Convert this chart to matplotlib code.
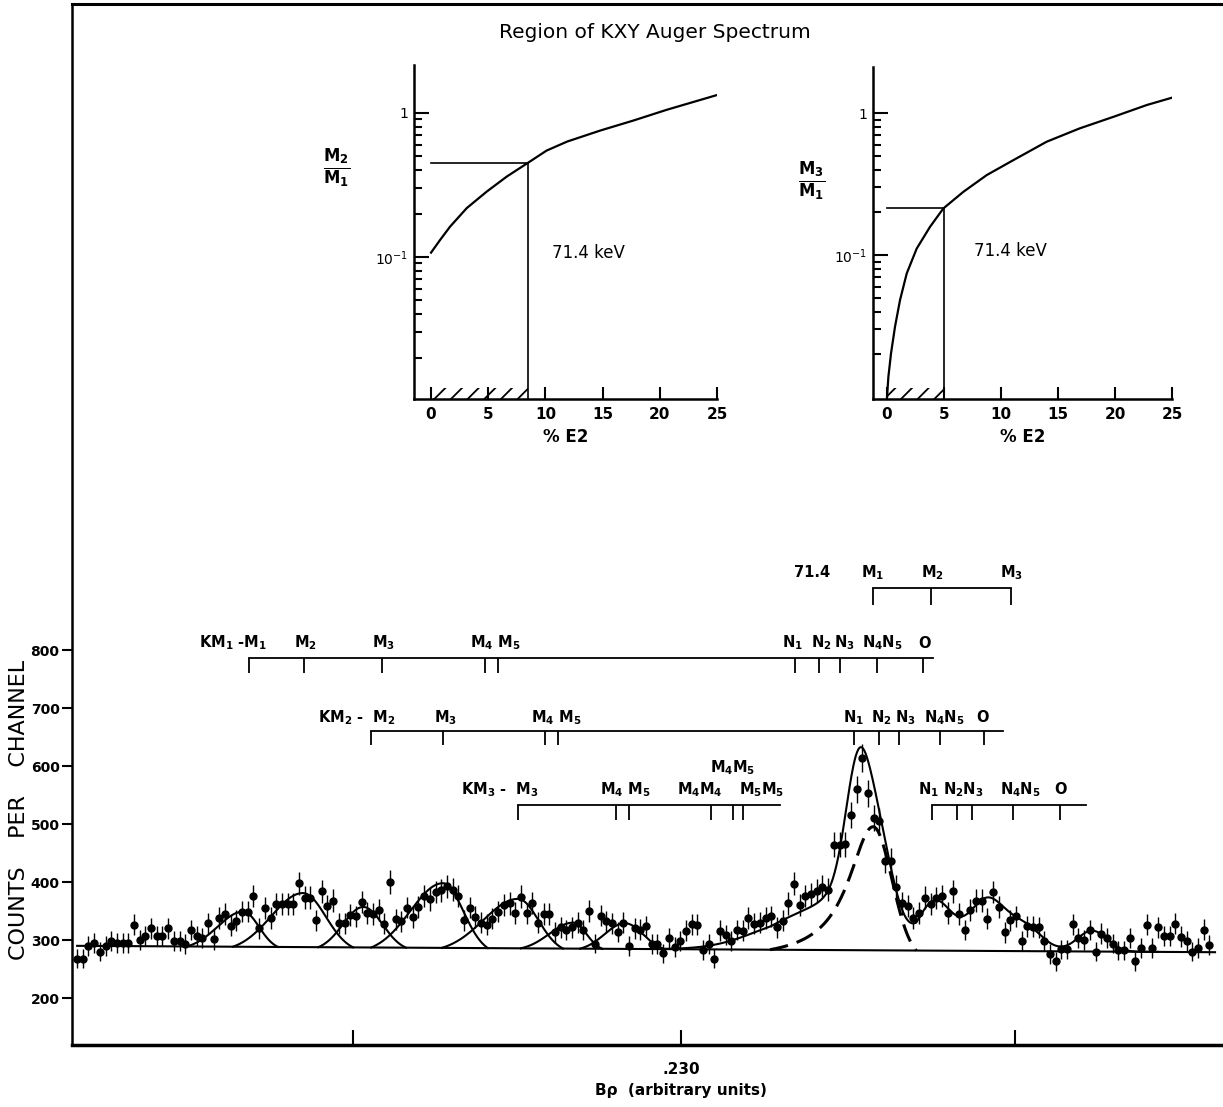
import numpy as np
import matplotlib
matplotlib.use('Agg')
import matplotlib.pyplot as plt
from matplotlib.patches import Rectangle

# ---- data ----
# counts per channel, channels 0..199 (equally spaced)
counts = [268, 268, 290, 295, 280, 290, 299, 295, 295, 295,
          326, 300, 307, 320, 307, 307, 320, 299, 299, 293,
          317, 307, 303, 329, 301, 338, 345, 325, 333, 349,
          349, 376, 320, 355, 338, 362, 362, 362, 362, 398,
          373, 373, 334, 384, 358,
          368, 329, 329, 343, 341, 366, 347, 345, 352, 328,
          400, 336, 332, 356, 340, 357, 376, 370, 383, 386,
          393, 387, 376, 334, 356, 340, 330, 326, 337, 349,
          360, 363, 347, 375, 346, 364, 330, 345, 345, 313,
          322, 317, 322, 330,
          317, 350, 294, 342, 332, 329, 314, 330, 290, 320,
          318, 324, 293, 293, 277, 304, 288, 298, 316, 327,
          326, 283, 293, 268, 316, 309, 299, 317, 316, 338,
          328, 330, 338, 341, 322, 333, 363, 397, 360, 376,
          379, 385, 392, 387,
          464, 464, 465, 516, 560, 614, 553, 510, 505, 437,
          437, 392, 363, 358, 338,
          347, 373, 362, 372, 376, 347, 384, 345, 317, 352,
          368, 368, 337, 383, 357, 313, 334, 341, 299, 324,
          323, 322, 299, 276, 263, 284, 284, 327, 304, 300,
          317, 280, 311, 303, 294, 282, 282, 303, 263, 286,
          326, 286, 322, 307, 307, 328, 306, 298, 280, 286,
          318, 291]

# background line (channel, counts)
base_ch = [0, 200]
base_counts = [290, 279]

# left-hand fitted lines: centre, peak counts, left foot, right foot (channels)
left_centres = [29.2, 39.7, 50.3, 64.3, 77.5, 87.2, 96.3]
left_peaks = [349, 381, 357, 398, 371, 330, 329]
left_feet = [19.3, 27.4, 42.4, 51.7, 64.1, 78.0, 88.4]
right_feet = [35.3, 48.5, 57.8, 72.2, 85.4, 92.3, 103.3]

# 71.4 keV line (dashed): centre, height above background, feet, widths
peak_centre, peak_height = 139.9, 213
peak_lfoot, peak_rfoot = 121.8, 147.5
peak_gamma, peak_sigma = 5.3, 3.3

# other components under the summed curve: centre, sigma, height
sum_centres = [127.1, 137.1, 150.8, 159.9, 166.6, 178.4]
sum_sigmas = [7.9, 2.1, 3.0, 3.2, 3.0, 2.6]
sum_heights = [50, 157, 85, 88, 40, 36]

# x axis ticks (channels) and labels
xtick_ch = [48.5, 106.2, 164.9]
xtick_lab = ['', '.230', '']

# line markers: (line counts, tick bottom counts, start, end, tick channels)
brackets = [
    (907, 878, 139.9, 164.1, [139.9, 150.1, 164.1]),
    (786, 760, 30.2, 150.4, [30.2, 39.9, 53.6, 71.7, 74.0, 126.2, 130.4, 134.1, 140.6, 148.7]),
    (660, 636, 51.7, 162.7, [51.7, 64.3, 82.2, 84.5, 136.6, 141.0, 144.5, 151.7, 159.4]),
    (533, 507, 77.5, 123.6, [77.5, 94.7, 97.0, 111.4, 115.3, 117.0]),
    (533, 507, 150.3, 177.3, [150.3, 154.7, 157.3, 164.5, 172.8]),
]
marker_labels = [
    ('71.4', 129.2, 934), ('M$_1$', 139.9, 934), ('M$_2$', 150.3, 934), ('M$_3$', 164.3, 934),
    ('KM$_1$ -M$_1$', 27.4, 812), ('M$_2$', 40.1, 812), ('M$_3$', 53.8, 812),
    ('M$_4$ M$_5$', 73.5, 812), ('N$_1$', 125.8, 812), ('N$_2$', 130.8, 812),
    ('N$_3$', 134.8, 812), ('N$_4$N$_5$', 141.5, 812), ('O', 148.9, 812),
    ('KM$_2$ -  M$_2$', 49.2, 684), ('M$_3$', 64.7, 684), ('M$_4$ M$_5$', 84.2, 684),
    ('N$_1$', 136.4, 684), ('N$_2$', 141.3, 684), ('N$_3$', 145.5, 684),
    ('N$_4$N$_5$', 152.4, 684), ('O', 159.2, 684),
    ('KM$_3$ -  M$_3$', 74.3, 560), ('M$_4$ M$_5$', 96.3, 560), ('M$_4$M$_4$', 109.5, 560),
    ('M$_4$M$_5$', 115.3, 597), ('M$_5$M$_5$', 120.4, 560),
    ('N$_1$', 149.6, 560), ('N$_2$N$_3$', 155.7, 560), ('N$_4$N$_5$', 165.7, 560), ('O', 172.9, 560),
]

# insets: % E2 vs ratio
e2_m2 = [0.0, 0.79, 1.66, 3.12, 4.87, 6.62, 8.51, 10.1, 11.9, 14.8, 17.7, 20.6, 25.0]
r_m2 = [0.107, 0.131, 0.162, 0.218, 0.284, 0.361, 0.452, 0.547, 0.632, 0.754, 0.885, 1.05, 1.33]
e2_m3 = [0.0, 0.12, 0.35, 0.70, 1.14, 1.73, 2.6, 3.77, 4.94, 6.7, 8.75, 11.1, 14.0, 16.9, 19.85, 22.8, 25.1]
r_m3 = [0.010, 0.0139, 0.0203, 0.0313, 0.0482, 0.0743, 0.111, 0.158, 0.213, 0.279, 0.366,
        0.467, 0.628, 0.78, 0.94, 1.14, 1.29]
cut_m2 = (8.5, 0.45)
cut_m3 = (5.0, 0.214)


def background(x):
    return np.interp(x, base_ch, base_counts)


def cut_gauss(x, c, lf, rf, k=2.2):
    sl = (c - lf) / k
    sr = (rf - c) / k
    t = np.where(x < c, (x - c) / sl, (x - c) / sr)
    g0 = np.exp(-k ** 2 / 2)
    return np.clip((np.exp(-t ** 2 / 2) - g0) / (1 - g0), 0, None)


def peak_shape(x):
    L = 1 / (1 + ((x - peak_centre) / peak_gamma) ** 2)
    L0 = 1 / (1 + ((peak_lfoot - peak_centre) / peak_gamma) ** 2)
    g = np.exp(-((x - peak_centre) / peak_sigma) ** 2 / 2)
    g0 = np.exp(-((peak_rfoot - peak_centre) / peak_sigma) ** 2 / 2)
    y = np.where(x < peak_centre, (L - L0) / (1 - L0), (g - g0) / (1 - g0))
    return np.clip(y, 0, None)


W, H = 1223, 1107
plt.rcParams['font.family'] = 'DejaVu Sans'
plt.rcParams['mathtext.default'] = 'regular'
plt.rcParams['hatch.linewidth'] = 1.3

fig = plt.figure(figsize=(W / 100, H / 100), dpi=100)

ax = fig.add_axes([72 / W, 62 / H, 1 - 72 / W, 1041 / H])
ch = np.arange(len(counts))
cnt = np.array(counts, dtype=float)
ax.errorbar(ch, cnt, yerr=np.sqrt(cnt), fmt='o', color='black', ms=5,
            elinewidth=1.0, capsize=0, zorder=3)

xb = np.linspace(0, 200, 400)
ax.plot(xb, background(xb), color='black', lw=1.5)

for c, p, lf, rf in zip(left_centres, left_peaks, left_feet, right_feet):
    xx = np.linspace(lf, rf, 200)
    ax.plot(xx, background(xx) + (p - background(c)) * cut_gauss(xx, c, lf, rf),
            color='black', lw=1.5)

xs = np.linspace(103, 190, 800)
ys = background(xs) + peak_height * peak_shape(xs)
for c, s, h in zip(sum_centres, sum_sigmas, sum_heights):
    ys = ys + h * np.exp(-((xs - c) / s) ** 2 / 2)
ax.plot(xs, ys, color='black', lw=1.5)

xd = np.linspace(peak_lfoot, peak_rfoot, 300)
ax.plot(xd, background(xd) + peak_height * peak_shape(xd), color='black', lw=2.2,
        dashes=(6, 3))

for yl, yb, x0, x1, ticks in brackets:
    ax.plot([x0, x1], [yl, yl], color='black', lw=1.3)
    ax.vlines(ticks, yb, yl, color='black', lw=1.3)
for txt, x, y in marker_labels:
    ax.text(x, y, txt, ha='center', va='center', fontsize=10.5, fontweight='bold')

ax.set_xlim(-0.9, 201.4)
ax.set_ylim(119, 1914)
ax.set_yticks([200, 300, 400, 500, 600, 700, 800])
ax.set_yticklabels(['200', '300', '400', '500', '600', '700', '800'], fontsize=10,
                   fontweight='bold')
ax.set_xticks(xtick_ch)
ax.set_xticklabels(xtick_lab, fontsize=11, fontweight='bold')
ax.tick_params(axis='y', direction='out', length=7, width=1.5, pad=2)
ax.tick_params(axis='x', direction='in', length=11, width=1.5, pad=12)
ax.spines['right'].set_visible(False)
ax.spines['left'].set_linewidth(1.8)
ax.spines['top'].set_linewidth(2.2)
ax.spines['bottom'].set_linewidth(2.5)

fig.text(19 / W, 1 - 810 / H, 'COUNTS    PER    CHANNEL', rotation=90, ha='center',
         va='center', fontsize=16)
fig.text(681 / W, 1 - 1090 / H, 'B\u03c1  (arbitrary units)', ha='center', va='center',
         fontsize=11, fontweight='bold')
fig.text(655 / W, 1 - 33 / H, 'Region of KXY Auger Spectrum', ha='center', va='center',
         fontsize=14.5)


def inset(rect, e2, ratio, cut, ylims, xleft, label, label_xy, kev_xy):
    a = fig.add_axes(rect)
    a.patch.set_alpha(0)
    a.set_yscale('log')
    a.plot(e2, ratio, color='black', lw=1.6)
    a.plot([0, cut[0]], [cut[1], cut[1]], color='black', lw=1.2)
    a.plot([cut[0], cut[0]], [ylims[0], cut[1]], color='black', lw=1.2)
    a.add_patch(Rectangle((0, ylims[0]), cut[0], ylims[0] * 0.2, fill=False, hatch='//',
                          lw=0, edgecolor='black'))
    a.set_xlim(xleft, 25)
    a.set_ylim(*ylims)
    a.set_xticks([0, 5, 10, 15, 20, 25])
    a.set_xticklabels(['0', '5', '10', '15', '20', '25'], fontsize=11, fontweight='bold')
    a.set_yticks([0.1, 1])
    a.set_yticklabels(['$10^{-1}$', '1'], fontsize=10)
    a.set_yticks([0.02, 0.03, 0.04, 0.05, 0.06, 0.07, 0.08, 0.09,
                  0.2, 0.3, 0.4, 0.5, 0.6, 0.7, 0.8, 0.9], minor=True)
    a.yaxis.set_minor_formatter(matplotlib.ticker.NullFormatter())
    a.tick_params(axis='y', which='major', direction='in', length=11, width=1.5, pad=4)
    a.tick_params(axis='y', which='minor', direction='in', length=6, width=1.5)
    a.tick_params(axis='x', direction='in', length=9, width=1.5, pad=6)
    a.spines['top'].set_visible(False)
    a.spines['right'].set_visible(False)
    a.spines['left'].set_linewidth(1.8)
    a.spines['bottom'].set_linewidth(1.8)
    a.set_xlabel('% E2', fontsize=12, fontweight='bold', labelpad=4)
    fig.text(label_xy[0] / W, 1 - label_xy[1] / H, label, ha='center', va='center',
             fontsize=17, fontweight='bold')
    a.text(kev_xy[0], kev_xy[1], '71.4 keV', ha='center', va='center', fontsize=12)


inset([414 / W, 708 / H, 303 / W, 334 / H], e2_m2, r_m2, cut_m2, (0.0103, 2.15), -1.49,
      r'$\frac{M_2}{M_1}$', (337, 168), (13.8, 0.107))
inset([873 / W, 708 / H, 299 / W, 332 / H], e2_m3, r_m3, cut_m3, (0.0097, 2.11), -1.23,
      r'$\frac{M_3}{M_1}$', (812, 181), (10.8, 0.107))

fig.savefig('out.png', dpi=100, facecolor='white')
